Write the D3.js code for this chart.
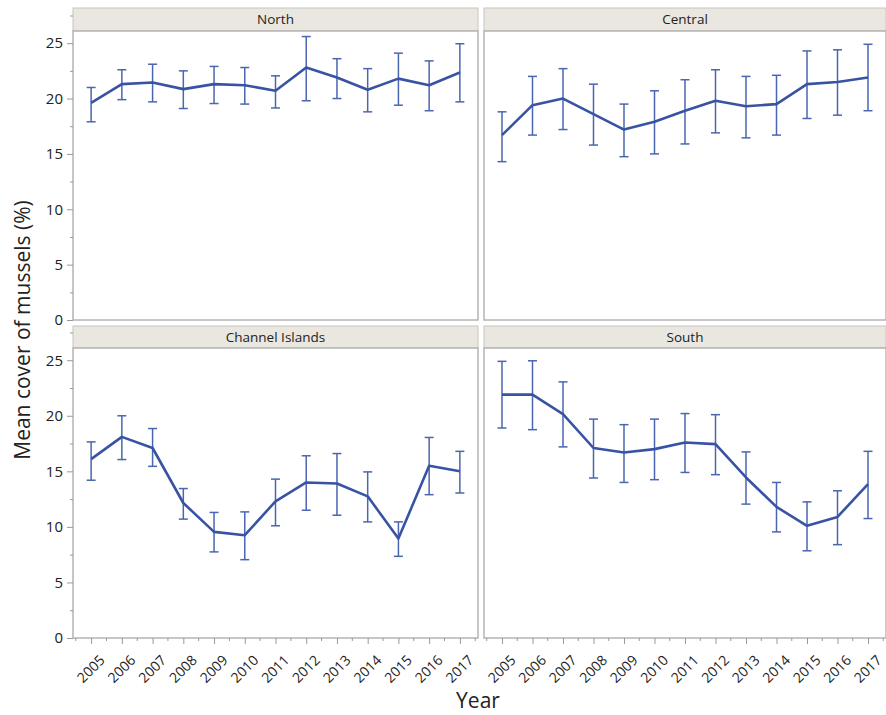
<!DOCTYPE html>
<html>
<head>
<meta charset="utf-8">
<script src="https://cdn.jsdelivr.net/npm/d3@7"></script>
<style>
  body { margin: 0; background: #fff; }
  text { font-family: "Open Sans", "Noto Sans", sans-serif; fill: #222; }
</style>
</head>
<body>
<div id="chart"></div>
<script>
// data
const years = [2005, 2006, 2007, 2008, 2009, 2010, 2011, 2012, 2013, 2014, 2015, 2016, 2017];
const regions = ["North", "Central", "Channel Islands", "South"];
const yTicks = [0, 5, 10, 15, 20, 25];

const northMean  = [19.6, 21.3, 21.45, 20.85, 21.3, 21.2, 20.7, 22.8, 21.9, 20.8, 21.8, 21.2, 22.35];
const northHigh  = [21.0, 22.6, 23.1, 22.5, 22.9, 22.8, 22.05, 25.6, 23.6, 22.7, 24.1, 23.4, 24.95];
const northLow   = [17.9, 19.9, 19.7, 19.1, 19.55, 19.5, 19.15, 19.8, 20.0, 18.8, 19.4, 18.9, 19.7];

const centralMean = [16.7, 19.4, 20.0, 18.6, 17.2, 17.9, 18.9, 19.8, 19.3, 19.5, 21.3, 21.5, 21.9];
const centralHigh = [18.8, 22.0, 22.7, 21.3, 19.5, 20.7, 21.7, 22.6, 22.0, 22.1, 24.3, 24.4, 24.9];
const centralLow  = [14.3, 16.7, 17.2, 15.8, 14.75, 15.0, 15.9, 16.9, 16.45, 16.7, 18.2, 18.5, 18.9];

const channelMean = [16.1, 18.1, 17.1, 12.15, 9.55, 9.25, 12.3, 14.0, 13.9, 12.75, 8.95, 15.5, 15.0];
const channelHigh = [17.65, 20.0, 18.85, 13.45, 11.3, 11.35, 14.3, 16.4, 16.6, 14.95, 10.45, 18.05, 16.8];
const channelLow  = [14.2, 16.06, 15.45, 10.7, 7.75, 7.05, 10.1, 11.5, 11.05, 10.45, 7.35, 12.9, 13.05];

const southMean = [21.9, 21.9, 20.15, 17.1, 16.7, 17.0, 17.6, 17.45, 14.45, 11.8, 10.1, 10.9, 13.85];
const southHigh = [24.9, 24.95, 23.05, 19.7, 19.2, 19.7, 20.2, 20.1, 16.75, 14.0, 12.25, 13.25, 16.8];
const southLow  = [18.9, 18.75, 17.2, 14.4, 14.0, 14.25, 14.9, 14.7, 12.05, 9.55, 7.85, 8.4, 10.75];

const means = [northMean, centralMean, channelMean, southMean];
const highs = [northHigh, centralHigh, channelHigh, southHigh];
const lows  = [northLow, centralLow, channelLow, southLow];

const W = 886, H = 715;
const cols = [[73, 478], [484, 886]];
const rows = [{head: 8, top: 31, bottom: 320}, {head: 326, top: 348, bottom: 638}];
const lineColor = "#3953a4";
const barColor = "#4a66b0";

const svg = d3.select("#chart").append("svg")
  .attr("width", W)
  .attr("height", H);

regions.forEach((name, i) => {
  const c = cols[i % 2], r = rows[Math.floor(i / 2)];
  const x = d3.scalePoint().domain(years).range(c).padding(0.59);
  const y = d3.scaleLinear().domain([0, 26.1]).range([r.bottom, r.top]);
  const step = x.step();

  const g = svg.append("g");

  // header strip
  g.append("rect")
    .attr("x", c[0]).attr("y", r.head)
    .attr("width", c[1] - c[0]).attr("height", r.top - r.head)
    .attr("fill", "#e9e7e0").attr("stroke", "#c8c6c0");
  g.append("text")
    .attr("x", (c[0] + c[1]) / 2).attr("y", (r.head + r.top) / 2 + 4.5)
    .attr("text-anchor", "middle")
    .style("font-size", "13.5px")
    .text(name);

  // plot frame
  g.append("rect")
    .attr("x", c[0]).attr("y", r.top)
    .attr("width", c[1] - c[0]).attr("height", r.bottom - r.top)
    .attr("fill", "#fff").attr("stroke", "#b4b4b4").attr("stroke-width", 1.5);

  // y axis on left column
  if (i % 2 === 0) {
    const ya = g.append("g")
      .attr("transform", `translate(${c[0]},0)`)
      .call(d3.axisLeft(y).tickValues(yTicks).tickSize(6).tickPadding(4));
    ya.select(".domain").remove();
    ya.selectAll(".tick line").attr("stroke", "#999");
    ya.selectAll(".tick text").style("font-size", "15px").attr("fill", "#222");
    const ym = g.append("g")
      .attr("transform", `translate(${c[0]},0)`)
      .call(d3.axisLeft(y).tickValues(yTicks.map(v => v + 2.5)).tickSize(3).tickFormat(""));
    ym.select(".domain").remove();
    ym.selectAll(".tick line").attr("stroke", "#999");
  }

  // x axis on bottom row
  if (i >= 2) {
    const xa = g.append("g")
      .attr("transform", `translate(0,${r.bottom})`)
      .call(d3.axisBottom(x).tickSize(6).tickPadding(2));
    xa.select(".domain").remove();
    xa.selectAll(".tick line").attr("stroke", "#999");
    xa.selectAll(".tick text")
      .style("font-size", "14px")
      .attr("fill", "#222")
      .attr("text-anchor", "end")
      .attr("dy", "0.35em")
      .attr("transform", "translate(5,14) rotate(-45)");
    g.append("g").selectAll("line")
      .data(years.concat([years[years.length - 1] + 1]))
      .join("line")
      .attr("x1", d => (d === 2018 ? x(2017) + step : x(d)) - step / 2)
      .attr("x2", d => (d === 2018 ? x(2017) + step : x(d)) - step / 2)
      .attr("y1", r.bottom).attr("y2", r.bottom + 3)
      .attr("stroke", "#999");
  }

  // error bars
  const eb = g.append("g").attr("stroke", barColor).attr("stroke-width", 1.5).attr("fill", "none");
  years.forEach((yr, k) => {
    const cx = x(yr);
    eb.append("line").attr("x1", cx).attr("x2", cx)
      .attr("y1", y(lows[i][k])).attr("y2", y(highs[i][k]));
    eb.append("line").attr("x1", cx - 4.5).attr("x2", cx + 4.5)
      .attr("y1", y(highs[i][k])).attr("y2", y(highs[i][k]));
    eb.append("line").attr("x1", cx - 4.5).attr("x2", cx + 4.5)
      .attr("y1", y(lows[i][k])).attr("y2", y(lows[i][k]));
  });

  // mean line
  g.append("path")
    .datum(years.map((yr, k) => [yr, means[i][k]]))
    .attr("fill", "none")
    .attr("stroke", lineColor)
    .attr("stroke-width", 2.6)
    .attr("stroke-linejoin", "round")
    .attr("d", d3.line().x(d => x(d[0])).y(d => y(d[1])));
});

// axis titles
svg.append("text")
  .attr("x", 478).attr("y", 708)
  .attr("text-anchor", "middle")
  .style("font-size", "21px")
  .text("Year");

svg.append("text")
  .attr("transform", "translate(30,330) rotate(-90)")
  .attr("text-anchor", "middle")
  .style("font-size", "21px")
  .text("Mean cover of mussels (%)");
</script>
</body>
</html>
